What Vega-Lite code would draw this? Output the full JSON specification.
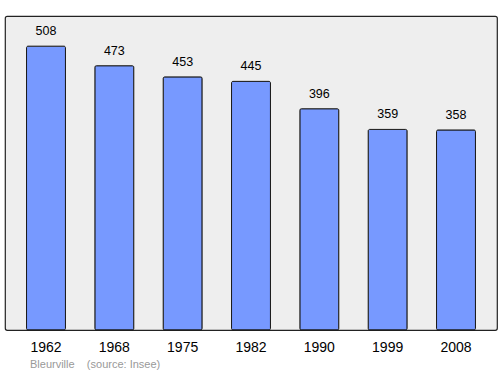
{
  "$schema": "https://vega.github.io/schema/vega-lite/v6.json",
  "autosize": "none",
  "width": 492,
  "height": 314,
  "padding": {"left": 5, "top": 16, "right": 3, "bottom": 44},
  "background": "white",
  "view": {"fill": "#eeeeee", "stroke": "#222222", "strokeWidth": 1.2, "cornerRadius": 2},
  "title": {
    "text": "Bleurville\u00a0\u00a0\u00a0\u00a0(source: Insee)",
    "orient": "bottom",
    "anchor": "start",
    "dx": 25,
    "offset": 5,
    "fontSize": 11,
    "fontWeight": "normal",
    "color": "#999999",
    "font": "Liberation Sans"
  },
  "data": {
    "values": [
      {"year": "1962", "pop": 508},
      {"year": "1968", "pop": 473},
      {"year": "1975", "pop": 453},
      {"year": "1982", "pop": 445},
      {"year": "1990", "pop": 396},
      {"year": "1999", "pop": 359},
      {"year": "2008", "pop": 358}
    ]
  },
  "encoding": {
    "x": {
      "field": "year",
      "type": "ordinal",
      "scale": {"paddingInner": 0.43, "paddingOuter": 0.315},
      "axis": {
        "title": null,
        "domain": false,
        "ticks": false,
        "labelAngle": 0,
        "labelFontSize": 14,
        "labelFont": "Liberation Sans",
        "labelColor": "#000000",
        "labelPadding": 10
      }
    },
    "y": {
      "field": "pop",
      "type": "quantitative",
      "scale": {"domain": [0, 562], "nice": false},
      "axis": null
    }
  },
  "layer": [
    {
      "mark": {"type": "bar", "fill": "#7799ff", "stroke": "#1a1a1a", "strokeWidth": 1, "cornerRadius": 1.5}
    },
    {
      "mark": {"type": "text", "baseline": "bottom", "dy": -8, "fontSize": 12.5, "font": "Liberation Sans", "color": "#000000"},
      "encoding": {"text": {"field": "pop", "type": "quantitative"}}
    }
  ]
}
